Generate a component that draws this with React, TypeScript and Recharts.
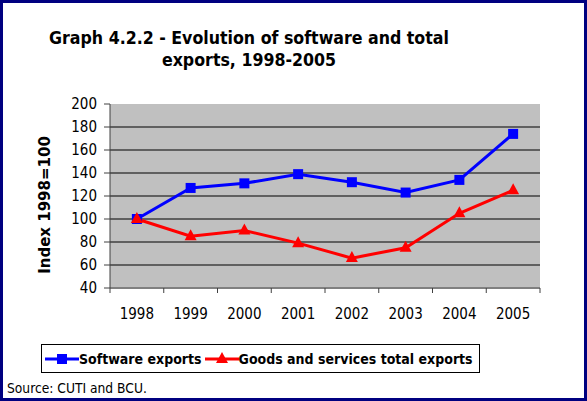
import React from 'react';
import { LineChart, Line, XAxis, YAxis, CartesianGrid, Legend } from 'recharts';

const years = ['1998', '1999', '2000', '2001', '2002', '2003', '2004', '2005'];
const softwareExports = [100, 127, 131, 139, 132, 123, 134, 174];
const totalExports = [100, 85, 90, 79, 66, 75, 105, 125];
const yTicks = [40, 60, 80, 100, 120, 140, 160, 180, 200];
const seriesOrder = ['software', 'total'];

const data = years.map((year, i) => ({ year, software: softwareExports[i], total: totalExports[i] }));

const FONT = '"DejaVu Sans Condensed", "DejaVu Sans", sans-serif';
const WIDE_FONT = '"DejaVu Sans", sans-serif';
const W = 587;
const H = 401;
const MARGIN = { top: 104, right: 47, bottom: 83, left: 40 };
const Y_AXIS_W = 70;
const PLOT_W = W - MARGIN.left - MARGIN.right - Y_AXIS_W;
const BAND = PLOT_W / years.length;

const SquareDot = (props: any) => {
  const { cx, cy } = props;
  if (cx == null || cy == null) return null;
  return <rect x={cx - 5} y={cy - 5} width={10} height={10} fill="#0000FF" />;
};

const TriangleDot = (props: any) => {
  const { cx, cy } = props;
  if (cx == null || cy == null) return null;
  return <polygon points={`${cx},${cy - 7} ${cx + 6},${cy + 4} ${cx - 6},${cy + 4}`} fill="#FF0000" />;
};

// labels sit in the middle of each category, tick marks on the boundaries (Excel style)
const YearTick = (props: any) => {
  const { x, y, payload, index } = props;
  return (
    <g>
      <line x1={x - BAND / 2} x2={x - BAND / 2} y1={y} y2={y + 5} stroke="#404040" />
      {index === years.length - 1 && (
        <line x1={x + BAND / 2} x2={x + BAND / 2} y1={y} y2={y + 5} stroke="#404040" />
      )}
      <text x={x} y={y + 31} textAnchor="middle" fontSize={15} fontFamily={FONT} fill="#000">
        {payload.value}
      </text>
    </g>
  );
};

const YLabel = (props: any) => {
  const { viewBox } = props;
  const x = viewBox.x + 5;
  const y = viewBox.y + viewBox.height / 2 + 9;
  return (
    <text x={x} y={y} transform={`rotate(-90, ${x}, ${y})`} textAnchor="middle" dominantBaseline="central"
      fontSize={15} fontWeight="bold" fontFamily={WIDE_FONT} fill="#000">
      Index 1998=100
    </text>
  );
};

const LegendBox = (props: any) => {
  const items = [...(props.payload || [])].sort(
    (a: any, b: any) => seriesOrder.indexOf(a.dataKey) - seriesOrder.indexOf(b.dataKey)
  );
  return (
    <div style={{ display: 'inline-flex', alignItems: 'center', border: '1px solid #000', height: 27, padding: '0 3px', background: '#fff', whiteSpace: 'nowrap' }}>
      {items.map((entry: any) => (
        <span key={entry.dataKey} style={{ display: 'inline-flex', alignItems: 'center', marginRight: 3 }}>
          <svg width={34} height={14}>
            <line x1={0} x2={34} y1={7} y2={7} stroke={entry.color} strokeWidth={3} />
            {entry.dataKey === 'software'
              ? <rect x={12} y={2} width={10} height={10} fill={entry.color} />
              : <polygon points="17,0 23,11 11,11" fill={entry.color} />}
          </svg>
          <span style={{ fontFamily: FONT, fontWeight: 'bold', fontSize: 14, color: '#000' }}>{entry.value}</span>
        </span>
      ))}
    </div>
  );
};

export default function App() {
  return (
    <div style={{ position: 'absolute', left: 0, top: 0, width: W, height: H, background: '#fff', boxSizing: 'border-box', border: '3px solid #000080' }}>
      <div style={{ position: 'absolute', left: -4, top: 24, width: 500, textAlign: 'center', fontFamily: FONT, fontWeight: 'bold', fontSize: 17.6, lineHeight: '22px', color: '#000' }}>
        Graph 4.2.2 - Evolution of software and total
        <br />
        exports, 1998-2005
      </div>
      <div style={{ position: 'absolute', left: -3, top: -3 }}>
        <LineChart width={W} height={H} data={data} margin={MARGIN}>
          <CartesianGrid vertical={false} stroke="#000" fill="#C0C0C0" fillOpacity={1} horizontalValues={[60, 80, 100, 120, 140, 160, 180]} />
          <XAxis dataKey="year" height={30} padding={{ left: BAND / 2, right: BAND / 2 }}
            axisLine={{ stroke: '#808080', strokeWidth: 2 }} tickLine={false} tickSize={0} tickMargin={0} tick={<YearTick />} interval={0} />
          <XAxis xAxisId="top" orientation="top" dataKey="year" height={0} tick={false} tickLine={false}
            axisLine={{ stroke: '#808080', strokeWidth: 2 }} />
          <YAxis width={Y_AXIS_W} domain={[40, 200]} ticks={yTicks} interval={0}
            axisLine={{ stroke: '#404040' }} tickLine={{ stroke: '#404040' }} tickSize={6} tickMargin={7}
            tick={{ fontSize: 15, fontFamily: FONT, fill: '#000' }} label={<YLabel />} />
          <YAxis yAxisId="right" orientation="right" width={0} domain={[40, 200]} tick={false} tickLine={false}
            axisLine={{ stroke: '#808080', strokeWidth: 2 }} />
          <Line dataKey="software" name="Software exports" stroke="#0000FF" strokeWidth={3}
            dot={<SquareDot />} activeDot={false} isAnimationActive={false} />
          <Line dataKey="total" name="Goods and services total exports" stroke="#FF0000" strokeWidth={3}
            dot={<TriangleDot />} activeDot={false} isAnimationActive={false} />
          <Legend layout="vertical" align="center" verticalAlign="middle" content={<LegendBox />}
            wrapperStyle={{ left: 41, top: 344, width: 'auto', height: 'auto' }} />
        </LineChart>
      </div>
      <div style={{ position: 'absolute', left: 4, top: 377, fontFamily: FONT, fontSize: 13.7, color: '#000', whiteSpace: 'nowrap' }}>
        Source: CUTI and BCU.
      </div>
    </div>
  );
}
